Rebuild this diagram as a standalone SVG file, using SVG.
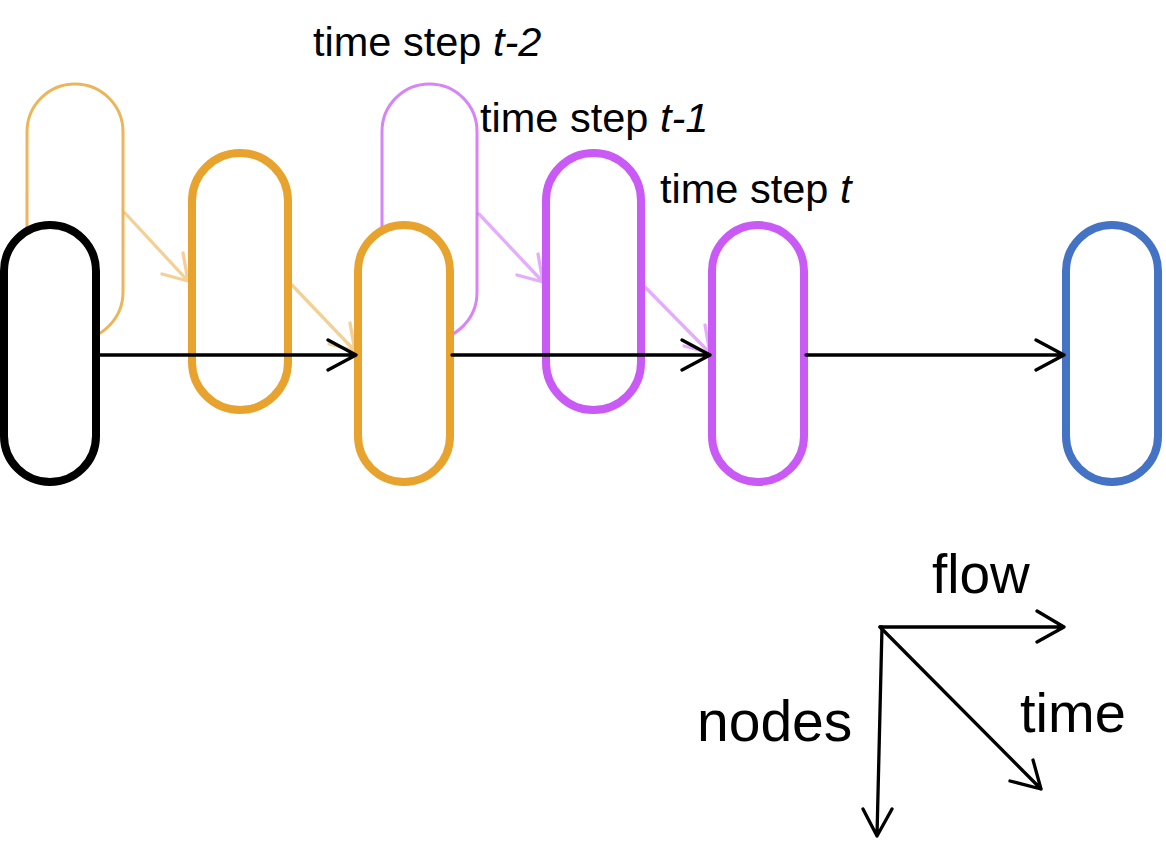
<svg xmlns="http://www.w3.org/2000/svg" width="1166" height="866" viewBox="0 0 1166 866">
<style>
.node{fill:#ffffff;stroke-width:8}
.pale{fill:#ffffff;stroke-width:3}
.k{stroke:#000000}
.o{stroke:#E8A22E}
.p{stroke:#C95AF5}
.b{stroke:#4472C4}
.po{stroke:#EDB55A}
.pp{stroke:#D884F8}
.arr{fill:none;stroke:#000;stroke-width:3.3;stroke-linecap:round;stroke-linejoin:round}
.tarr{fill:none;stroke-width:3.3;stroke-linecap:round;stroke-linejoin:round;stroke-opacity:0.5}
.lbl{font-family:"Liberation Sans",Arial,sans-serif;fill:#000}
</style>
<rect width="1166" height="866" fill="#ffffff"/>

<g id="node-t2-a"><rect class="pale po" x="27" y="84" width="96" height="256" rx="48"/></g>
<g id="node-t2-b"><rect class="pale pp" x="382" y="84" width="95" height="256" rx="47.5"/></g>

<g id="node-t1-a"><rect class="node o" x="192" y="153" width="96" height="257" rx="48"/></g>
<g id="node-t1-b"><rect class="node p" x="546" y="153" width="95" height="257" rx="47.5"/></g>

<g id="node-t-0"><rect class="node k" x="4" y="225" width="92" height="257" rx="46"/></g>
<g id="node-t-a"><rect class="node o" x="358" y="225" width="92" height="257" rx="46"/></g>
<g id="node-t-b"><rect class="node p" x="712" y="225" width="92" height="257" rx="46"/></g>
<g id="node-out"><rect class="node b" x="1066" y="225" width="92" height="257" rx="46"/></g>

<g id="connectors">
  <g id="time-arrows">
    <path class="tarr o" d="M125,213 L188,281 M183,253 L188,281 L162,274"/>
    <path class="tarr o" d="M292,285 L355,351 M350,323 L355,351 L329,344"/>
    <path class="tarr p" d="M479,214 L543,282 M538,254 L543,282 L517,275"/>
    <path class="tarr p" d="M645,287 L710,353 M705,325 L710,353 L684,346"/>
  </g>
  <g id="flow-arrows">
    <path class="arr" d="M96,355 L356,355 M328,340 L356,355 L328,370"/>
    <path class="arr" d="M452,355 L710,355 M682,340 L710,355 L682,370"/>
    <path class="arr" d="M806,355 L1064,355 M1036,340 L1064,355 L1036,370"/>
  </g>
  <g id="axes">
    <path class="arr" d="M880,627 L1064,627 M1037,611 L1064,627 L1037,642"/>
    <path class="arr" d="M882,627 L877,836 M863,809 L877,836 L892,809"/>
    <path class="arr" d="M880,627 L1041,789 M1033,760 L1041,789 L1010,781"/>
  </g>
</g>

<g id="labels">
  <text class="lbl" x="313" y="56" font-size="41.5">time step <tspan font-style="italic">t-2</tspan></text>
  <text class="lbl" x="480" y="132" font-size="41.5">time step <tspan font-style="italic">t-1</tspan></text>
  <text class="lbl" x="660" y="203" font-size="41.5">time step <tspan font-style="italic">t</tspan></text>
  <text class="lbl" x="932" y="593" font-size="55">flow</text>
  <text class="lbl" x="1020" y="732" font-size="56">time</text>
  <text class="lbl" x="697" y="741" font-size="57">nodes</text>
</g>
</svg>
